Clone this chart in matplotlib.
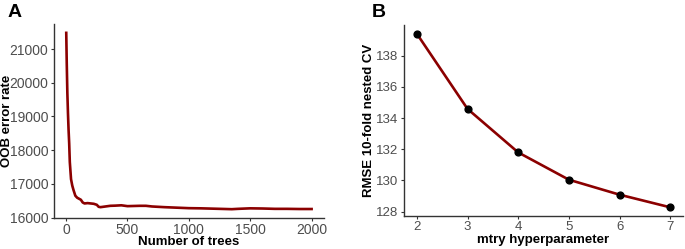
import matplotlib
matplotlib.use("Agg")
import matplotlib.pyplot as plt

# ---------------------------------------------------------------------------
# Data
# ---------------------------------------------------------------------------
n_trees = [1, 5, 10, 15, 20, 25, 30, 40, 50, 60, 75, 90, 105, 120, 135,
           150, 175, 200, 225, 250, 265, 280, 320, 360, 400, 450, 500, 550,
           600, 650, 700, 800, 900, 1000, 1100, 1200, 1300, 1350, 1400, 1500,
           1600, 1700, 1800, 1900, 2000]
oob_error = [21480, 20600, 19700, 19100, 18600, 18200, 17650, 17140, 16950,
             16820, 16650, 16590, 16560, 16530, 16450, 16420, 16430, 16420,
             16410, 16380, 16320, 16310, 16330, 16350, 16355, 16365, 16340,
             16345, 16350, 16350, 16330, 16310, 16295, 16280, 16275, 16265,
             16255, 16250, 16260, 16275, 16270, 16260, 16260, 16255, 16255]

mtry = [2, 3, 4, 5, 6, 7]
rmse_cv = [139.41, 134.59, 131.80, 130.05, 129.09, 128.28]

x_ticks_a = [0, 500, 1000, 1500, 2000]
y_ticks_a = [16000, 17000, 18000, 19000, 20000, 21000]
y_ticks_b = [128, 130, 132, 134, 136, 138]

# ---------------------------------------------------------------------------
# Style
# ---------------------------------------------------------------------------
plt.rcParams["font.family"] = ["Liberation Sans", "DejaVu Sans"]
LINE_COL = "#8B0000"
AXIS_COL = "#333333"
TICK_TXT = "#4D4D4D"


def style_axes(ax, tick_size):
    for side in ("top", "right"):
        ax.spines[side].set_visible(False)
    for side in ("left", "bottom"):
        ax.spines[side].set_color(AXIS_COL)
        ax.spines[side].set_linewidth(1.0)
    ax.tick_params(axis="both", length=2.5, width=0.8, color=AXIS_COL,
                   labelcolor=TICK_TXT, labelsize=tick_size, pad=1.5)
    ax.tick_params(axis="x", pad=1)


fig = plt.figure(figsize=(6.85, 2.49), dpi=100)

# ---- Panel A ---------------------------------------------------------------
ax_a = fig.add_axes([0.0788, 0.1245, 0.394, 0.779])
ax_a.plot(n_trees, oob_error, color=LINE_COL, lw=1.9, solid_joinstyle="round")
ax_a.margins(x=0.05, y=0.05)
ax_a.set_xticks(x_ticks_a)
ax_a.set_yticks(y_ticks_a)
style_axes(ax_a, 10)
ax_a.set_xlabel("Number of trees", fontsize=9.5, fontweight="bold", labelpad=-0.5)
ax_a.set_ylabel("OOB error rate", fontsize=9.5, fontweight="bold")
ax_a.yaxis.set_label_coords(-0.152, 0.5)
fig.text(0.011, 0.985, "A", fontsize=14, fontweight="bold", va="top", ha="left")

# ---- Panel B ---------------------------------------------------------------
ax_b = fig.add_axes([0.590, 0.1325, 0.407, 0.767])
ax_b.plot(mtry, rmse_cv, color=LINE_COL, lw=1.9, zorder=2)
ax_b.scatter(mtry, rmse_cv, color="black", s=24, zorder=3)
ax_b.margins(x=0.05, y=0.05)
ax_b.set_xticks(mtry)
ax_b.set_yticks(y_ticks_b)
style_axes(ax_b, 9.5)
ax_b.set_xlabel("mtry hyperparameter", fontsize=9.5, fontweight="bold", labelpad=1)
ax_b.set_ylabel("RMSE 10-fold nested CV", fontsize=9.5, fontweight="bold")
ax_b.yaxis.set_label_coords(-0.105, 0.5)
fig.text(0.543, 0.985, "B", fontsize=14, fontweight="bold", va="top", ha="left")

fig.savefig("out.png", dpi=100)
